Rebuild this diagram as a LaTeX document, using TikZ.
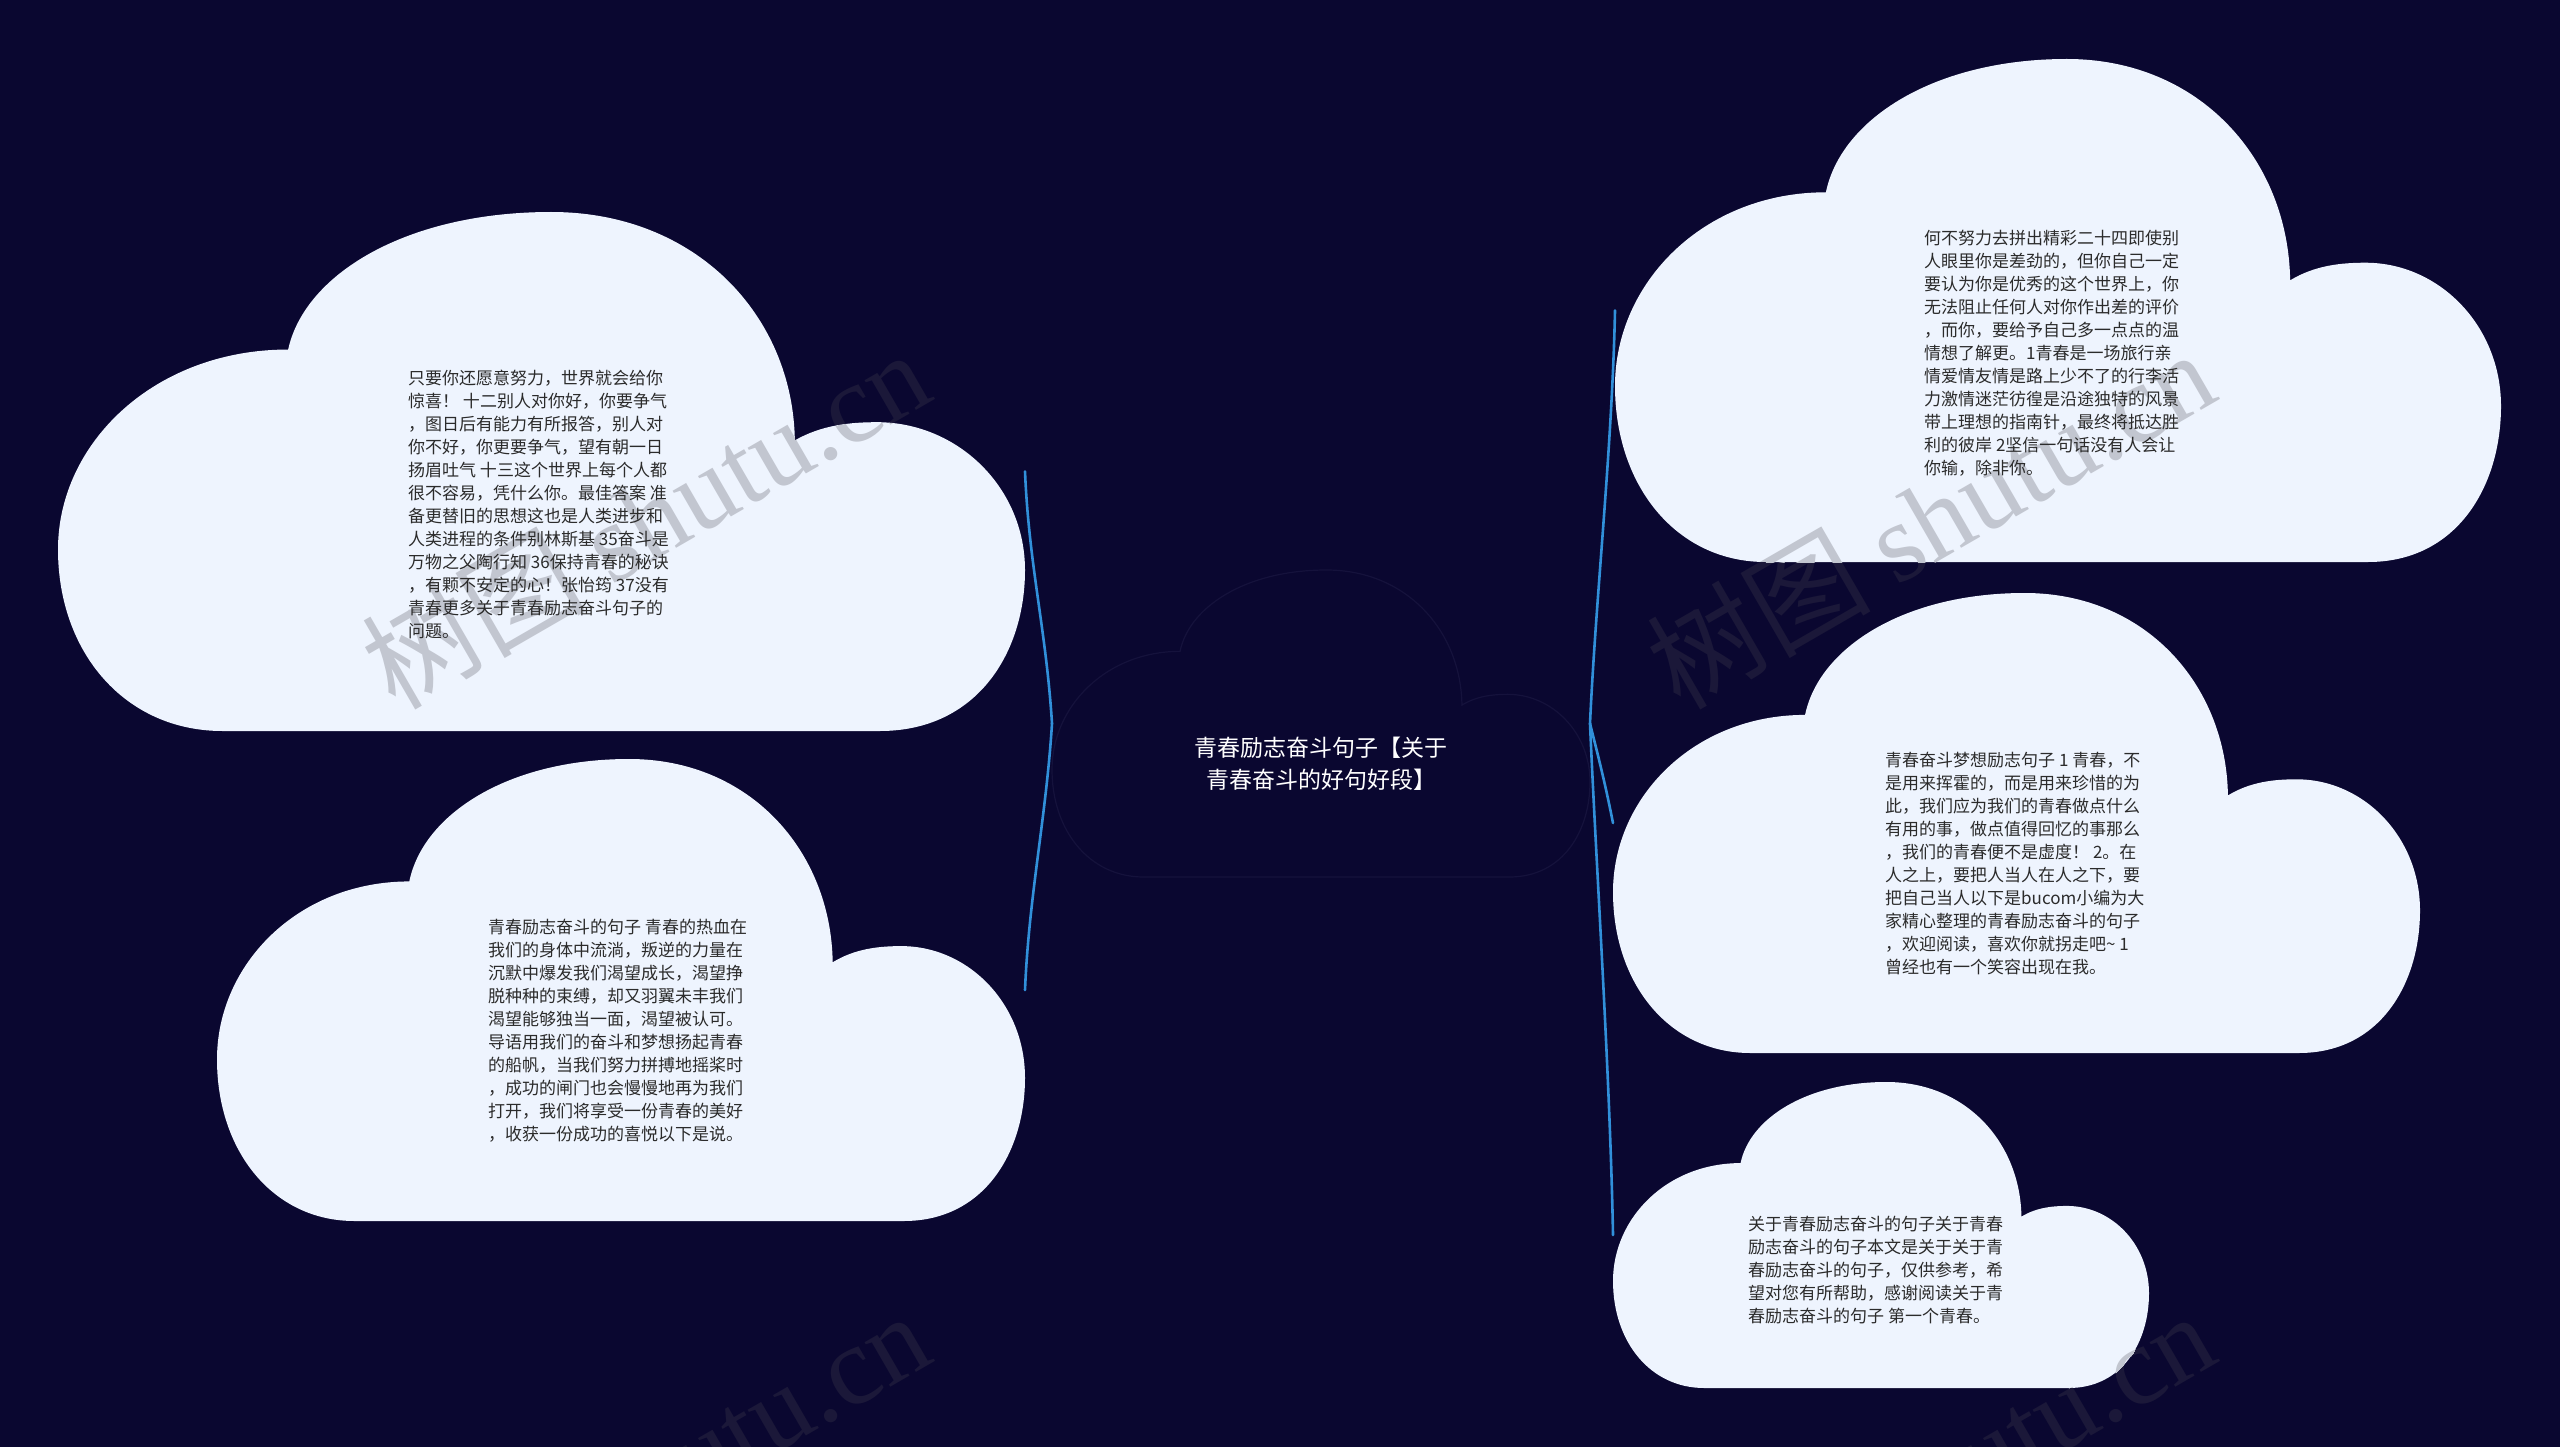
\documentclass[tikz,border=0pt]{standalone}
\usepackage{fontspec}
\setmainfont{Noto Sans CJK SC}
\newfontfamily\wmlatin{Liberation Serif}
\definecolor{bg}{HTML}{0A0730}
\definecolor{cloudc}{HTML}{EEF4FE}
\definecolor{txt}{HTML}{2B2B2B}
\definecolor{linkc}{HTML}{3190DA}
\definecolor{cline}{HTML}{15123C}
\definecolor{wmdark}{HTML}{1B1839}
\definecolor{wmlight}{HTML}{C2C6D0}
% cloud outline: x0, y0, w, h (pixel units, y downwards)
\newcommand\cloudseg[4]{(#1+0.17*#3,#2+#4) .. controls (#1+0.07*#3,#2+#4) and (#1,#2+0.85*#4) .. (#1,#2+0.65*#4) .. controls (#1,#2+0.445*#4) and (#1+0.1*#3,#2+0.265*#4) .. (#1+0.238*#3,#2+0.265*#4) .. controls (#1+0.255*#3,#2+0.12*#4) and (#1+0.36*#3,#2) .. (#1+0.51*#3,#2) .. controls (#1+0.66*#3,#2) and (#1+0.76*#3,#2+0.2*#4) .. (#1+0.762*#3,#2+0.44*#4) .. controls (#1+0.79*#3,#2+0.41*#4) and (#1+0.82*#3,#2+0.405*#4) .. (#1+0.847*#3,#2+0.405*#4) .. controls (#1+0.93*#3,#2+0.405*#4) and (#1+#3,#2+0.53*#4) .. (#1+#3,#2+0.69*#4) .. controls (#1+#3,#2+0.85*#4) and (#1+0.95*#3,#2+#4) .. (#1+0.85*#3,#2+#4) -- cycle}
% cloud with a named bounding node: name, x0, y0, w, h, style
\newcommand\mkcloud[6]{%
  \path[#6] \cloudseg{#2}{#3}{#4}{#5};
  \node[bboxnode, minimum width=#4pt, minimum height=#5pt] (#1) at ({#2+#4/2},{#3+#5/2}) {};}
\newcommand\wmark[3]{\node[wmstyle, text=#3] at (#1,#2) {树图 {\wmlatin shutu.cn}};}
\tikzset{
  bboxnode/.style={inner sep=0pt, outer sep=0pt, draw=none},
  cloudfill/.style={fill=cloudc},
  centerfill/.style={fill=bg, draw=cline, line width=1.2pt},
  body/.style={anchor=north west, inner sep=0pt, align=left, text=txt,
    font=\fontsize{17pt}{23pt}\selectfont},
  title/.style={anchor=center, inner sep=0pt, align=center, text=white,
    font=\fontsize{23pt}{32pt}\selectfont},
  linkst/.style={draw=linkc, line width=2.6pt, line cap=round},
  wmstyle/.style={rotate=30, inner sep=0pt, font=\fontsize{112pt}{112pt}\selectfont}
}
\begin{document}
\begin{tikzpicture}[x=1pt, y=-1pt]
\useasboundingbox (0,0) rectangle (2560,1447);
\fill[bg] (0,0) rectangle (2560,1447);
% faint watermarks on the background
\begin{scope}
  \clip (0,0) rectangle (2560,1447);
  \wmark{645}{518}{wmdark}
  \wmark{1930}{518}{wmdark}
  \wmark{645}{1480}{wmdark}
  \wmark{1930}{1480}{wmdark}
\end{scope}
% clouds
\mkcloud{c}{1052}{570}{538}{307}{centerfill}
\mkcloud{lt}{58}{212}{967}{519}{cloudfill}
\mkcloud{lb}{217}{759}{808}{462}{cloudfill}
\mkcloud{rt}{1615}{59}{886}{503}{cloudfill}
\mkcloud{rm}{1613}{593}{807}{460}{cloudfill}
\mkcloud{rb}{1613}{1082}{536}{306}{cloudfill}
% watermarks over the clouds
\begin{scope}
  \clip \cloudseg{58}{212}{967}{519} \cloudseg{217}{759}{808}{462}
        \cloudseg{1615}{59}{886}{503} \cloudseg{1613}{593}{807}{460}
        \cloudseg{1613}{1082}{536}{306};
  \wmark{645}{518}{wmlight}
  \wmark{1930}{518}{wmlight}
  \wmark{645}{1480}{wmlight}
  \wmark{1930}{1480}{wmlight}
\end{scope}
% texts
\node[title] (ct) at (1321,764) {青春励志奋斗句子【关于\\青春奋斗的好句好段】};
\node[body] (tlt) at (408,370) {只要你还愿意努力，世界就会给你\\惊喜！ 十二别人对你好，你要争气\\，图日后有能力有所报答，别人对\\你不好，你更要争气，望有朝一日\\扬眉吐气 十三这个世界上每个人都\\很不容易，凭什么你。最佳答案 准\\备更替旧的思想这也是人类进步和\\人类进程的条件别林斯基 35奋斗是\\万物之父陶行知 36保持青春的秘诀\\，有颗不安定的心！张怡筠 37没有\\青春更多关于青春励志奋斗句子的\\问题。};
\node[body] (tlb) at (488,919) {青春励志奋斗的句子 青春的热血在\\我们的身体中流淌，叛逆的力量在\\沉默中爆发我们渴望成长，渴望挣\\脱种种的束缚，却又羽翼未丰我们\\渴望能够独当一面，渴望被认可。\\导语用我们的奋斗和梦想扬起青春\\的船帆，当我们努力拼搏地摇桨时\\，成功的闸门也会慢慢地再为我们\\打开，我们将享受一份青春的美好\\，收获一份成功的喜悦以下是说。};
\node[body] (trt) at (1924,230) {何不努力去拼出精彩二十四即使别\\人眼里你是差劲的，但你自己一定\\要认为你是优秀的这个世界上，你\\无法阻止任何人对你作出差的评价\\，而你，要给予自己多一点点的温\\情想了解更。1青春是一场旅行亲\\情爱情友情是路上少不了的行李活\\力激情迷茫彷徨是沿途独特的风景\\带上理想的指南针，最终将抵达胜\\利的彼岸 2坚信一句话没有人会让\\你输，除非你。};
\node[body] (trm) at (1885,752) {青春奋斗梦想励志句子 1 青春，不\\是用来挥霍的，而是用来珍惜的为\\此，我们应为我们的青春做点什么\\有用的事，做点值得回忆的事那么\\，我们的青春便不是虚度！ 2。在\\人之上，要把人当人在人之下，要\\把自己当人以下是bucom小编为大\\家精心整理的青春励志奋斗的句子\\，欢迎阅读，喜欢你就拐走吧\textasciitilde{} 1\\曾经也有一个笑容出现在我。};
\node[body] (trb) at (1748,1216) {关于青春励志奋斗的句子关于青春\\励志奋斗的句子本文是关于关于青\\春励志奋斗的句子，仅供参考，希\\望对您有所帮助，感谢阅读关于青\\春励志奋斗的句子 第一个青春。};
% connectors
\draw[linkst] (c.west) .. controls +(-6,-95) and +(4,95) .. (lt.east);
\draw[linkst] (c.west) .. controls +(-6,95) and +(4,-95) .. (lb.east);
\draw[linkst] (c.east) .. controls +(6,-130) and +(-3,140) .. (rt.west);
\draw[linkst] (c.east) .. controls +(10,40) and +(-8,-40) .. (rm.west);
\draw[linkst] (c.east) .. controls +(6,140) and +(-3,-160) .. (rb.west);
\end{tikzpicture}
\end{document}
